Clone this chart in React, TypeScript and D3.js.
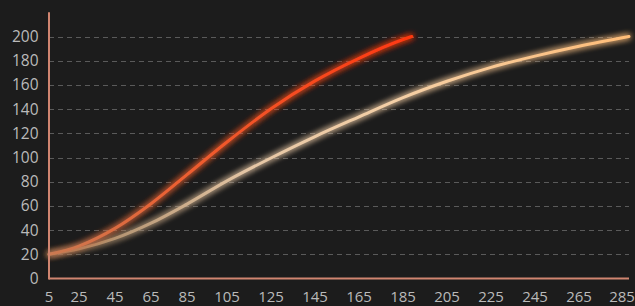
import React from "react";
import * as d3 from "d3";

const xTicks = [5, 25, 45, 65, 85, 105, 125, 145, 165, 185, 205, 225, 245, 265, 285];
const yTicks = [0, 20, 40, 60, 80, 100, 120, 140, 160, 180, 200];

const redX = [5, 25, 45, 65, 85, 105, 125, 145, 165, 185, 189];
const redY = [20, 26.8, 41.4, 61.8, 85.8, 112.8, 140.3, 163.3, 182, 197.5, 200];

const beigeX = [5, 25, 45, 65, 85, 105, 125, 145, 165, 185, 205, 225, 245, 265, 285];
const beigeY = [20, 24.5, 33.1, 45.7, 61.5, 80.7, 99.6, 117.3, 133.6, 149.5, 163, 174.5, 183.8, 192, 200];

const W = 635;
const H = 306;

export default function App() {
  // the reference's x axis is piecewise: its labels are not evenly spaced
  const xRange = [49, 79, 115, 151, 187, 227, 271, 315, 359, 403, 447, 491, 535, 579, 629];
  const x = d3.scaleLinear().domain(xTicks).range(xRange);
  const y = d3.scaleLinear().domain([0, 220]).range([278.5, 12.3]);

  const line = d3
    .line<[number, number]>()
    .x((d) => x(d[0]))
    .y((d) => y(d[1]))
    .curve(d3.curveMonotoneX);

  const red = redX.map((v, i) => [v, redY[i]] as [number, number]);
  const beige = beigeX.map((v, i) => [v, beigeY[i]] as [number, number]);

  const x0 = x(5);
  const x1 = x(285);
  const font = "'Open Sans', 'Noto Sans', sans-serif";

  return (
    <svg
      width={W}
      height={H}
      style={{ position: "fixed", left: 0, top: 0, background: "#1c1c1c" }}
    >
      <defs>
        <linearGradient id="gRed" gradientUnits="userSpaceOnUse" x1={x(5)} y1={0} x2={x(189)} y2={0}>
          <stop offset="0" stopColor="#c97a52" />
          <stop offset="0.35" stopColor="#ec6032" />
          <stop offset="1" stopColor="#ff3810" />
        </linearGradient>
        <linearGradient id="gBeige" gradientUnits="userSpaceOnUse" x1={x(5)} y1={0} x2={x(285)} y2={0}>
          <stop offset="0" stopColor="#9b7b58" />
          <stop offset="0.35" stopColor="#e6c7a6" />
          <stop offset="0.6" stopColor="#f4cfa6" />
          <stop offset="1" stopColor="#ffbd78" />
        </linearGradient>
        <filter id="glow" x="-10%" y="-20%" width="120%" height="140%">
          <feGaussianBlur in="SourceGraphic" stdDeviation="3" result="b" />
          <feMerge>
            <feMergeNode in="b" />
            <feMergeNode in="b" />
            <feMergeNode in="SourceGraphic" />
          </feMerge>
        </filter>
      </defs>
      <rect x={0} y={0} width={W} height={H} fill="#1c1c1c" />
      {yTicks
        .filter((t) => t > 0)
        .map((t) => (
          <line
            key={"g" + t}
            x1={x0}
            x2={x1}
            y1={Math.round(y(t)) + 0.5}
            y2={Math.round(y(t)) + 0.5}
            stroke="#5a5a5a"
            strokeWidth={1}
            strokeDasharray="5,4"
          />
        ))}
      {yTicks.map((t) => (
        <text
          key={"yl" + t}
          x={38.5}
          y={y(t)}
          dy="0.35em"
          textAnchor="end"
          fill="#bababa"
          fontSize={15.5}
          fontFamily={font}
        >
          {t}
        </text>
      ))}
      {xTicks.map((t) => {
        const pos = Math.min(x(t), W - 13);
        return (
          <text
            key={"xl" + t}
            x={pos}
            y={302}
            textAnchor="middle"
            fill="#bababa"
            fontSize={15}
            fontFamily={font}
          >
            {t}
          </text>
        );
      })}
      <path
        d={line(beige) || ""}
        fill="none"
        stroke="url(#gBeige)"
        strokeWidth={3}
        strokeLinecap="round"
        filter="url(#glow)"
      />
      <path
        d={line(red) || ""}
        fill="none"
        stroke="url(#gRed)"
        strokeWidth={3}
        strokeLinecap="round"
        filter="url(#glow)"
      />
      <line x1={x0} x2={x0} y1={y(220)} y2={y(0) + 1} stroke="#d08570" strokeWidth={2} />
      <line x1={x0} x2={x1} y1={y(0)} y2={y(0)} stroke="#d08570" strokeWidth={2} />
    </svg>
  );
}
